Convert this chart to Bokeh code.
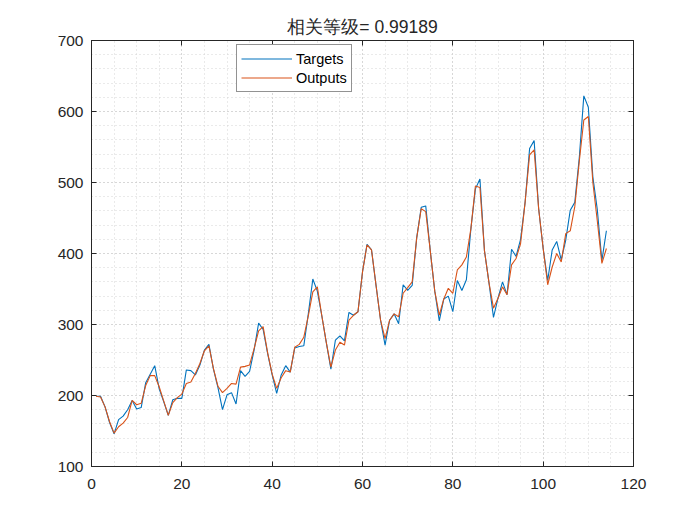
from bokeh.plotting import figure
from bokeh.models import (SingleIntervalTicker, LinearAxis, Range1d, Legend, LegendItem,
                          CustomLabelingPolicy, Title)
from bokeh.embed import file_html
from bokeh.resources import INLINE

title_text = "相关等级= 0.99189"
targets = [199, 199, 184, 162, 146, 166, 171, 180, 193, 181, 183, 218, 230, 242, 209, 191, 172, 194,
           196, 196, 236, 235, 229, 243, 264, 272, 237, 211, 180, 201, 204, 188, 235, 227, 234, 264,
           302, 293, 259, 229, 203, 229, 242, 233, 267, 269, 270, 315, 364, 347, 312, 274, 237, 278,
           284, 277, 317, 313, 318, 374, 413, 405, 355, 306, 271, 306, 315, 301, 356, 348, 355, 422,
           465, 467, 404, 347, 305, 336, 340, 318, 362, 348, 363, 435, 491, 505, 404, 359, 310, 337,
           360, 342, 406, 396, 420, 472, 548, 559, 463, 407, 362, 405, 417, 391, 419, 461, 472, 535,
           622, 606, 508, 461, 390, 432]
outputs = [199, 198, 184, 163, 147, 156, 161, 169, 193, 187, 189, 214, 228, 228, 212, 192, 172, 190,
           197, 202, 217, 219, 231, 245, 263, 270, 238, 213, 204, 210, 217, 216, 240, 241, 243, 266,
           291, 297, 260, 230, 210, 225, 235, 233, 268, 272, 282, 312, 346, 353, 312, 274, 240, 264,
           275, 271, 306, 313, 318, 374, 412, 405, 355, 306, 280, 306, 315, 311, 344, 352, 360, 422,
           463, 459, 404, 347, 313, 336, 351, 344, 377, 384, 395, 435, 495, 493, 404, 359, 323, 337,
           353, 342, 384, 393, 414, 472, 539, 546, 463, 407, 356, 381, 400, 388, 428, 432, 466, 530,
           588, 593, 500, 445, 386, 407]
sample = list(range(1, len(targets) + 1))
series_names = ["Targets", "Outputs"]
series_colors = ["#0072BD", "#D95319"]

x_min, x_max, x_step = 0, 120, 20
y_min, y_max, y_step = 100, 700, 100

FONT = "Liberation Sans"
AX = "#262626"
NO_LABELS = "return new Set()"

p = figure(width=684, height=509, x_range=Range1d(x_min, x_max), y_range=Range1d(y_min, y_max),
           output_backend="svg", toolbar_location=None,
           min_border_left=91, min_border_right=51, min_border_top=40, min_border_bottom=43,
           background_fill_color="white", border_fill_color="white",
           outline_line_color=AX, outline_line_width=1)
p.xaxis.visible = False
p.yaxis.visible = False

def make_ticker(step, nminor):
    return SingleIntervalTicker(interval=step, num_minor_ticks=nminor)

def style_axis(ax, labels, standoff):
    ax.axis_line_color = AX
    ax.axis_line_width = 1
    ax.major_tick_line_color = AX
    ax.major_tick_in = 5
    ax.major_tick_out = 0
    ax.minor_tick_in = 0
    ax.minor_tick_out = 0
    ax.major_label_text_font = FONT
    ax.major_label_text_color = AX
    ax.major_label_standoff = standoff
    if labels:
        ax.major_label_text_font_size = "15.5px"
    else:
        ax.major_label_text_font_size = "1px"
        ax.major_label_policy = CustomLabelingPolicy(code=NO_LABELS)

xb = LinearAxis(ticker=make_ticker(x_step, 4)); style_axis(xb, True, 12)
yl = LinearAxis(ticker=make_ticker(y_step, 5)); style_axis(yl, True, 8)
xt = LinearAxis(ticker=make_ticker(x_step, 4)); style_axis(xt, False, 0)
yr = LinearAxis(ticker=make_ticker(y_step, 5)); style_axis(yr, False, 0)
p.add_layout(xb, "below")
p.add_layout(yl, "left")
p.add_layout(xt, "above")
p.add_layout(yr, "right")

# title in the top panel, then an invisible spacer axis above it
main_title = Title(text=title_text, text_font=FONT, text_font_size="17.5px",
                   text_font_style="normal", text_color=AX, align="center", standoff=0)
p.add_layout(main_title, "above")
spacer = LinearAxis(ticker=make_ticker(x_step, 4), axis_line_color=None,
                    major_tick_line_color=None, minor_tick_line_color=None,
                    major_tick_in=0, major_tick_out=6, minor_tick_in=0, minor_tick_out=0,
                    major_label_standoff=0, major_label_text_font_size="1px",
                    major_label_policy=CustomLabelingPolicy(code=NO_LABELS))
p.add_layout(spacer, "above")

p.xgrid.ticker = make_ticker(x_step, 4)
p.ygrid.ticker = make_ticker(y_step, 5)
for g in (p.xgrid[0], p.ygrid[0]):
    g.grid_line_color = "#c4c4c4"
    g.grid_line_dash = "1 3"
    g.grid_line_width = 1
    g.minor_grid_line_color = "#d4d4d4"
    g.minor_grid_line_dash = "1 3"
    g.minor_grid_line_width = 1

r1 = p.line(sample, targets, line_color=series_colors[0], line_width=1.1)
r2 = p.line(sample, outputs, line_color=series_colors[1], line_width=1.1)

legend = Legend(items=[LegendItem(label=series_names[0], renderers=[r1]),
                       LegendItem(label=series_names[1], renderers=[r2])],
                location=(145, 374))
legend.label_text_font = FONT
legend.label_text_font_size = "14.5px"
legend.label_text_color = "black"
legend.border_line_color = AX
legend.border_line_width = 1
legend.background_fill_color = "white"
legend.background_fill_alpha = 1
legend.padding = 4
legend.spacing = 0
legend.margin = 0
legend.glyph_width = 51
legend.glyph_height = 19
legend.label_height = 19
legend.label_standoff = 4
p.add_layout(legend, "center")

open("out.html", "w").write(file_html(p, INLINE))
